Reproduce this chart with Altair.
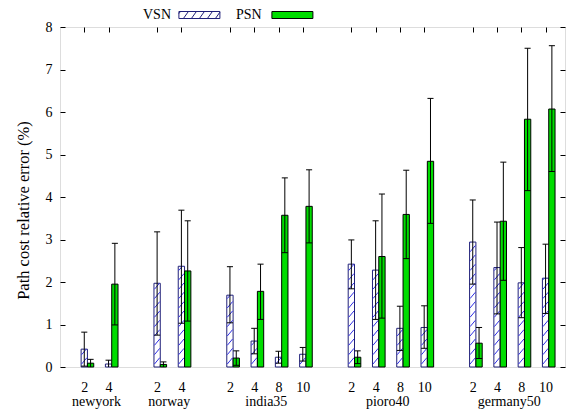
import altair as alt
import pandas as pd

# Network groups and the sizes measured in each group
groups = ["newyork", "norway", "india35", "pioro40", "germany50"]
group_sizes = [[2, 4], [2, 4], [2, 4, 8, 10], [2, 4, 8, 10], [2, 4, 8, 10]]
series_names = ["VSN", "PSN"]

# Relative error (%) per bar, in group/size order: mean, lower and upper error bound
vsn_mean = [0.42, 0.07, 1.97, 2.37, 1.69, 0.61, 0.23, 0.30, 2.42, 2.28, 0.91, 0.93, 2.94, 2.34, 1.98, 2.09]
vsn_low = [0.02, 0.00, 0.75, 1.03, 1.04, 0.31, 0.09, 0.14, 1.84, 1.12, 0.39, 0.44, 1.95, 1.25, 1.16, 1.26]
vsn_high = [0.82, 0.16, 3.18, 3.69, 2.36, 0.91, 0.37, 0.46, 2.99, 3.44, 1.43, 1.44, 3.93, 3.41, 2.81, 2.89]

psn_mean = [0.09, 1.95, 0.06, 2.26, 0.21, 1.78, 3.57, 3.78, 0.23, 2.60, 3.59, 4.84, 0.56, 3.43, 5.83, 6.07]
psn_low = [0.00, 0.99, 0.00, 1.08, 0.04, 1.12, 2.69, 2.92, 0.08, 1.15, 2.55, 3.38, 0.20, 2.04, 4.15, 4.60]
psn_high = [0.18, 2.91, 0.12, 3.44, 0.38, 2.42, 4.45, 4.64, 0.38, 4.07, 4.63, 6.32, 0.93, 4.82, 7.50, 7.56]

y_ticks = [0, 1, 2, 3, 4, 5, 6, 7, 8]

NAVY = "#202078"
HATCH = "#2f2fe6"
GREEN = "#00dd00"
FONT = "Liberation Serif"

BAR_W = 0.26      # bar width in x units
CAP_HALF = 0.125  # half width of error bar caps
RISE = 0.15       # hatch line rise across one bar (y units)
STEP = 0.22       # vertical spacing of hatch lines (y units)

# Slot positions: one unit per size, one empty slot between groups
slots, group_centers = [], []
p = 0
for g, sizes in zip(groups, group_sizes):
    start = p
    for s in sizes:
        slots.append((g, s, p))
        p += 1
    group_centers.append((start + p - 1) / 2)
    p += 1

records = []
for i, (g, s, pos) in enumerate(slots):
    for name, mean, low, high, shift in [
        ("VSN", vsn_mean, vsn_low, vsn_high, 0.0),
        ("PSN", psn_mean, psn_low, psn_high, BAR_W),
    ]:
        x0 = pos - BAR_W / 2 + shift
        records.append(dict(group=g, size=s, pos=pos, series=name,
                            mean=mean[i], low=low[i], high=high[i],
                            x0=x0, x1=x0 + BAR_W, c=x0 + BAR_W / 2,
                            cl=x0 + BAR_W / 2 - CAP_HALF, cr=x0 + BAR_W / 2 + CAP_HALF))
df = pd.DataFrame(records)

positions = [pos for _, _, pos in slots]
label_expr = ""
for _, s, pos in reversed(slots):
    label_expr = f"datum.value == {pos} ? '{s}' : " + (label_expr if label_expr else "''")

xs = alt.Scale(domain=[-1, 19.8], nice=False, zero=False)
ys = alt.Scale(domain=[0, 8], nice=False, zero=False)

bottom_axis = alt.Axis(orient="bottom", values=positions, labelExpr=label_expr, ticks=False, domain=False,
                       grid=False, labelFont=FONT, labelFontSize=14, labelColor="black", labelPadding=13,
                       labelFlush=False, labelOverlap=False, title=None)
top_axis = alt.Axis(orient="top", values=positions, labels=False, domain=False, grid=False,
                    tickSize=5, tickColor="black", tickWidth=1, offset=-5, title=None)
left_axis = alt.Axis(orient="left", values=y_ticks, format="d", domain=False, grid=False, tickSize=5,
                     tickColor="black", tickWidth=1, offset=-5, labelFont=FONT, labelFontSize=14,
                     labelColor="black", labelPadding=8, title="Path cost relative error (%)",
                     titleFont=FONT, titleFontSize=16.5, titleFontWeight="normal", titleColor="black",
                     titlePadding=14, titleY=183)
right_axis = alt.Axis(orient="right", values=y_ticks, labels=False, domain=False, grid=False, tickSize=5,
                      tickColor="black", tickWidth=1, offset=-5, title=None)

base = alt.Chart(df)

vsn_bars = base.transform_filter("datum.series == 'VSN'").mark_rect(
    fill="white", stroke=NAVY, strokeWidth=1
).encode(
    x=alt.X("x0:Q", scale=xs, axis=bottom_axis), x2="x1:Q",
    y=alt.Y("mean:Q", scale=ys, axis=left_axis), y2=alt.datum(0),
)

# Diagonal hatching inside the VSN bars
hatch = base.transform_filter("datum.series == 'VSN'").transform_calculate(
    k=f"sequence({-RISE}, datum.mean, {STEP})"
).transform_flatten(["k"]).transform_calculate(
    hy1="max(datum.k, 0)",
    hy2=f"min(datum.k + {RISE}, datum.mean)",
    hx1=f"datum.x0 + 0.02 + (datum.x1 - datum.x0 - 0.04) * max(0, -datum.k) / {RISE}",
    hx2=f"datum.x0 + 0.02 + (datum.x1 - datum.x0 - 0.04) * (min(datum.k + {RISE}, datum.mean) - datum.k) / {RISE}",
).transform_filter("datum.hy2 > datum.hy1").mark_rule(color=HATCH, strokeWidth=1).encode(
    x=alt.X("hx1:Q", scale=xs, axis=None), x2="hx2:Q",
    y=alt.Y("hy1:Q", scale=ys, axis=None), y2="hy2:Q",
)

psn_bars = base.transform_filter("datum.series == 'PSN'").mark_rect(
    fill=GREEN, stroke="black", strokeWidth=1
).encode(
    x=alt.X("x0:Q", scale=xs, axis=None), x2="x1:Q",
    y=alt.Y("mean:Q", scale=ys, axis=None), y2=alt.datum(0),
)

whiskers = base.mark_rule(color="black", strokeWidth=1).encode(
    x=alt.X("c:Q", scale=xs, axis=top_axis),
    y=alt.Y("low:Q", scale=ys, axis=None), y2="high:Q",
)
caps_high = base.mark_rule(color="black", strokeWidth=1).encode(
    x=alt.X("cl:Q", scale=xs, axis=None), x2="cr:Q",
    y=alt.Y("high:Q", scale=ys, axis=right_axis),
)
caps_low = base.transform_filter("datum.low > 0").mark_rule(color="black", strokeWidth=1).encode(
    x=alt.X("cl:Q", scale=xs, axis=None), x2="cr:Q",
    y=alt.Y("low:Q", scale=ys, axis=None),
)

group_df = pd.DataFrame({"group": groups, "center": group_centers})
group_labels = alt.Chart(group_df).mark_text(
    font=FONT, fontSize=14, color="black", baseline="middle", align="center"
).encode(
    x=alt.X("center:Q", scale=xs, axis=None),
    y=alt.value(375),
    text="group:N",
)

# Legend swatches: wide rectangles drawn to the right of each label,
# the VSN one with hatch strokes (path units are pixels, symbolSize=4)
SHIFT = 63.4
half_w, half_h = 20.5, 3.5
rect_path = (f"M{SHIFT - half_w},{-half_h}H{SHIFT + half_w}V{half_h}H{SHIFT - half_w}Z")
hatch_parts = []
for x_start in range(-24, 20, 8):
    xa, ya = float(x_start), half_h
    xb, yb = x_start + 5.0, -half_h
    if xa < -half_w:
        ya = half_h - (-half_w - xa) * (2 * half_h / 5)
        xa = -half_w
    if xb > half_w:
        yb = -half_h + (xb - half_w) * (2 * half_h / 5)
        xb = half_w
    if xb > xa:
        hatch_parts.append(f"M{SHIFT + xa:.2f},{ya:.2f}L{SHIFT + xb:.2f},{yb:.2f}")
vsn_symbol = rect_path + "".join(hatch_parts)
psn_symbol = rect_path

legend = alt.Legend(orient="none", legendX=69, legendY=-19, direction="horizontal", title=None,
                    labelFont=FONT, labelFontSize=14, labelColor="black", symbolSize=4,
                    symbolStrokeWidth=1, labelOffset=0, symbolOffset=0, columnPadding=-13,
                    padding=0, labelLimit=0)
legend_layer = alt.Chart(pd.DataFrame({"series": series_names})).transform_filter("false").mark_point(
    filled=True, opacity=1, strokeWidth=1
).encode(
    shape=alt.Shape("series:N", scale=alt.Scale(domain=series_names, range=[vsn_symbol, psn_symbol]),
                    legend=legend),
    fill=alt.Fill("series:N", scale=alt.Scale(domain=series_names, range=["white", GREEN]), legend=legend),
    stroke=alt.Stroke("series:N", scale=alt.Scale(domain=series_names, range=[NAVY, "black"]), legend=legend),
)

chart = alt.layer(
    vsn_bars, hatch, psn_bars, whiskers, caps_high, caps_low, group_labels, legend_layer
).properties(
    width=505, height=340,
    autosize=alt.AutoSizeParams(type="none"),
    padding={"left": 60, "top": 27, "right": 10, "bottom": 46},
).configure_view(
    stroke="black", strokeWidth=1
).configure(
    background="white"
)

chart.save("out.html", embed_options={"renderer": "svg", "actions": False})
